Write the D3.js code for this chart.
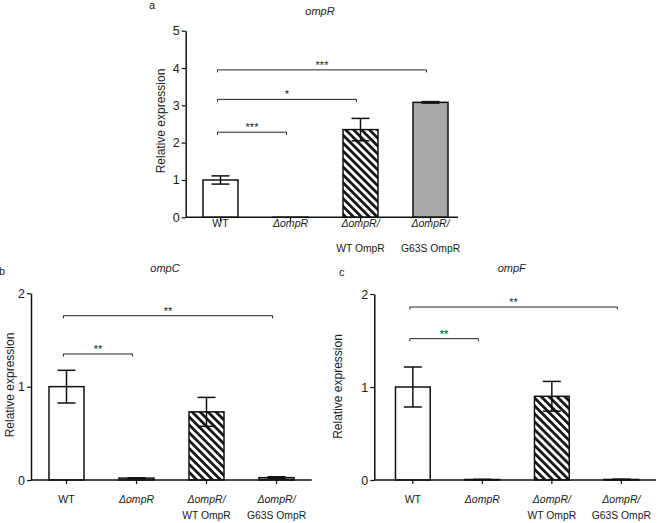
<!DOCTYPE html>
<html>
<head>
<meta charset="utf-8">
<script src="https://cdn.jsdelivr.net/npm/d3@7"></script>
<style>
  body { margin: 0; background: #fff; }
  text { font-family: "Liberation Sans", Arial, Helvetica, sans-serif; fill: #1a1a1a; }
</style>
</head>
<body>
<div id="chart"></div>
<script>
// categories (two label lines each)
const labelLine1 = ["WT", "\u0394ompR", "\u0394ompR/", "\u0394ompR/"];
const labelLine2 = ["", "", "WT OmpR", "G63S OmpR"];

// relative expression, mean and error
const ompRMean = [1.0, 0.003, 2.35, 3.08];
const ompRErr  = [0.11, 0, 0.30, 0.02];
const ompCMean = [1.0, 0.02, 0.73, 0.025];
const ompCErr  = [0.175, 0.004, 0.155, 0.01];
const ompFMean = [1.0, 0.005, 0.90, 0.006];
const ompFErr  = [0.215, 0.002, 0.16, 0.003];

// significance brackets: [from, to, height, stars]
const ompRSig = [[0, 1, 2.28, "***"], [0, 2, 3.16, "*"], [0, 3, 3.95, "***"]];
const ompCSig = [[0, 1, 1.35, "**"], [0, 3, 1.76, "**"]];
const ompFSig = [[0, 1, 1.52, "**"], [0, 3, 1.86, "**"]];

const yTicksR = [0, 1, 2, 3, 4, 5];
const yTicksCF = [0, 1, 2];

const barFills = ["#fff", "#fff", "url(#hatch)", "#a8a8a8"];

const width = 658, height = 523;

const svg = d3.select("#chart").append("svg")
    .attr("width", width)
    .attr("height", height);

const defs = svg.append("defs");
const hatch = defs.append("pattern")
    .attr("id", "hatch")
    .attr("patternUnits", "userSpaceOnUse")
    .attr("width", 5.6)
    .attr("height", 5.6)
    .attr("patternTransform", "rotate(-45)");
hatch.append("rect").attr("width", 5.6).attr("height", 5.6).attr("fill", "#fff");
hatch.append("line")
    .attr("x1", 1.4).attr("y1", 0).attr("x2", 1.4).attr("y2", 5.6)
    .attr("stroke", "#111").attr("stroke-width", 2.7);

function drawPanel(p) {
    const g = svg.append("g");

    const y = d3.scaleLinear().domain(p.domain).range([p.y0, p.yTop]);
    const x = d3.scaleBand()
        .domain(d3.range(p.means.length))
        .range([p.xStart, p.xStart + p.step * p.means.length])
        .paddingInner(0.5)
        .paddingOuter(0.25);
    const bw = x.bandwidth();
    const cx = i => x(i) + bw / 2;

    // bars
    g.selectAll("rect.bar")
        .data(p.means)
        .enter().append("rect")
        .attr("class", "bar")
        .attr("x", (d, i) => x(i))
        .attr("y", d => y(d))
        .attr("width", bw)
        .attr("height", d => y(0) - y(d))
        .attr("fill", (d, i) => barFills[i])
        .attr("stroke", "#111")
        .attr("stroke-width", 1.5);

    // error bars
    const cap = 9;
    const eb = g.selectAll("g.err")
        .data(p.means.map((m, i) => ({ m, e: p.errs[i], i })).filter(d => d.e > 0))
        .enter().append("g")
        .attr("class", "err")
        .attr("stroke", "#111")
        .attr("stroke-width", 1.5);
    eb.append("line")
        .attr("x1", d => cx(d.i)).attr("x2", d => cx(d.i))
        .attr("y1", d => y(d.m - d.e)).attr("y2", d => y(d.m + d.e));
    eb.append("line")
        .attr("x1", d => cx(d.i) - cap).attr("x2", d => cx(d.i) + cap)
        .attr("y1", d => y(d.m + d.e)).attr("y2", d => y(d.m + d.e));
    eb.append("line")
        .attr("x1", d => cx(d.i) - cap).attr("x2", d => cx(d.i) + cap)
        .attr("y1", d => y(d.m - d.e)).attr("y2", d => y(d.m - d.e));

    // y axis
    const yAxis = g.append("g")
        .attr("transform", `translate(${p.axisX},0)`)
        .call(d3.axisLeft(y).tickValues(p.ticks).tickFormat(d3.format("d")).tickSize(4).tickSizeOuter(0).tickPadding(2));
    yAxis.select(".domain").attr("stroke", "#111").attr("stroke-width", 1.5);
    yAxis.selectAll(".tick line").attr("stroke", "#111").attr("stroke-width", 1.2);
    yAxis.selectAll(".tick text")
        .attr("font-size", 12.5)
        .attr("font-family", "Liberation Sans, Arial, sans-serif")
        .attr("fill", "#1a1a1a");

    // x axis
    g.append("line")
        .attr("x1", p.axisX).attr("x2", p.axisEnd)
        .attr("y1", y(0)).attr("y2", y(0))
        .attr("stroke", "#111").attr("stroke-width", 1.5);
    g.selectAll("line.xtick")
        .data(p.means)
        .enter().append("line")
        .attr("class", "xtick")
        .attr("x1", (d, i) => cx(i)).attr("x2", (d, i) => cx(i))
        .attr("y1", y(0)).attr("y2", y(0) + 4)
        .attr("stroke", "#111").attr("stroke-width", 1.2);

    // x labels
    labelLine1.forEach((t, i) => {
        g.append("text")
            .attr("transform", `translate(${cx(i)},${p.label1Y}) scale(0.92,1)`)
            .attr("text-anchor", "middle")
            .attr("font-size", 11.5)
            .attr("font-style", i === 0 ? "normal" : "italic")
            .text(t);
        if (labelLine2[i]) {
            g.append("text")
                .attr("transform", `translate(${cx(i)},${p.label2Y}) scale(0.9,1)`)
                .attr("text-anchor", "middle")
                .attr("font-size", 11.5)
                .text(labelLine2[i]);
        }
    });

    // significance brackets
    p.sig.forEach(([a, b, h, s]) => {
        const x1 = cx(a) - 3, x2 = cx(b) - 4, yy = y(h);
        g.append("path")
            .attr("d", `M${x1},${yy + 2.5}V${yy}H${x2}V${yy + 2.5}`)
            .attr("fill", "none")
            .attr("stroke", "#222")
            .attr("stroke-width", 1);
        g.append("text")
            .attr("x", (x1 + x2) / 2)
            .attr("y", yy - 1)
            .attr("text-anchor", "middle")
            .attr("font-size", 11)
            .text(s);
    });

    // y label
    g.append("text")
        .attr("transform", `translate(${p.yLabelX},${p.yLabelY}) rotate(-90)`)
        .attr("text-anchor", "middle")
        .attr("dominant-baseline", "central")
        .attr("font-size", 12)
        .text("Relative expression");

    // title and panel letter
    g.append("text")
        .attr("x", p.titleX).attr("y", p.titleY)
        .attr("text-anchor", "middle")
        .attr("font-size", 11)
        .attr("font-style", "italic")
        .text(p.title);
    g.append("text")
        .attr("x", p.letterX).attr("y", p.letterY)
        .attr("font-size", 11)
        .text(p.letter);
}

drawPanel({
    means: ompRMean, errs: ompRErr, sig: ompRSig, ticks: yTicksR, domain: [0, 5],
    y0: 217.3, yTop: 30.7, axisX: 185.7, axisEnd: 458, xStart: 185.5, step: 70,
    label1Y: 227, label2Y: 251.5, yLabelX: 160.5, yLabelY: 121,
    title: "ompR", titleX: 320, titleY: 15, letter: "a", letterX: 149, letterY: 8.5
});

drawPanel({
    means: ompCMean, errs: ompCErr, sig: ompCSig, ticks: yTicksCF, domain: [0, 2],
    y0: 480, yTop: 293.3, axisX: 31, axisEnd: 311.7, xStart: 31.5, step: 70,
    label1Y: 502.5, label2Y: 519, yLabelX: 10, yLabelY: 385,
    title: "ompC", titleX: 165, titleY: 271.5, letter: "b", letterX: -1, letterY: 275
});

drawPanel({
    means: ompFMean, errs: ompFErr, sig: ompFSig, ticks: yTicksCF, domain: [0, 2],
    y0: 480, yTop: 294, axisX: 374.3, axisEnd: 656, xStart: 378.1, step: 69.5,
    label1Y: 502.5, label2Y: 519, yLabelX: 338, yLabelY: 386.5,
    title: "ompF", titleX: 511.7, titleY: 272.3, letter: "c", letterX: 339, letterY: 276
});
</script>
</body>
</html>
